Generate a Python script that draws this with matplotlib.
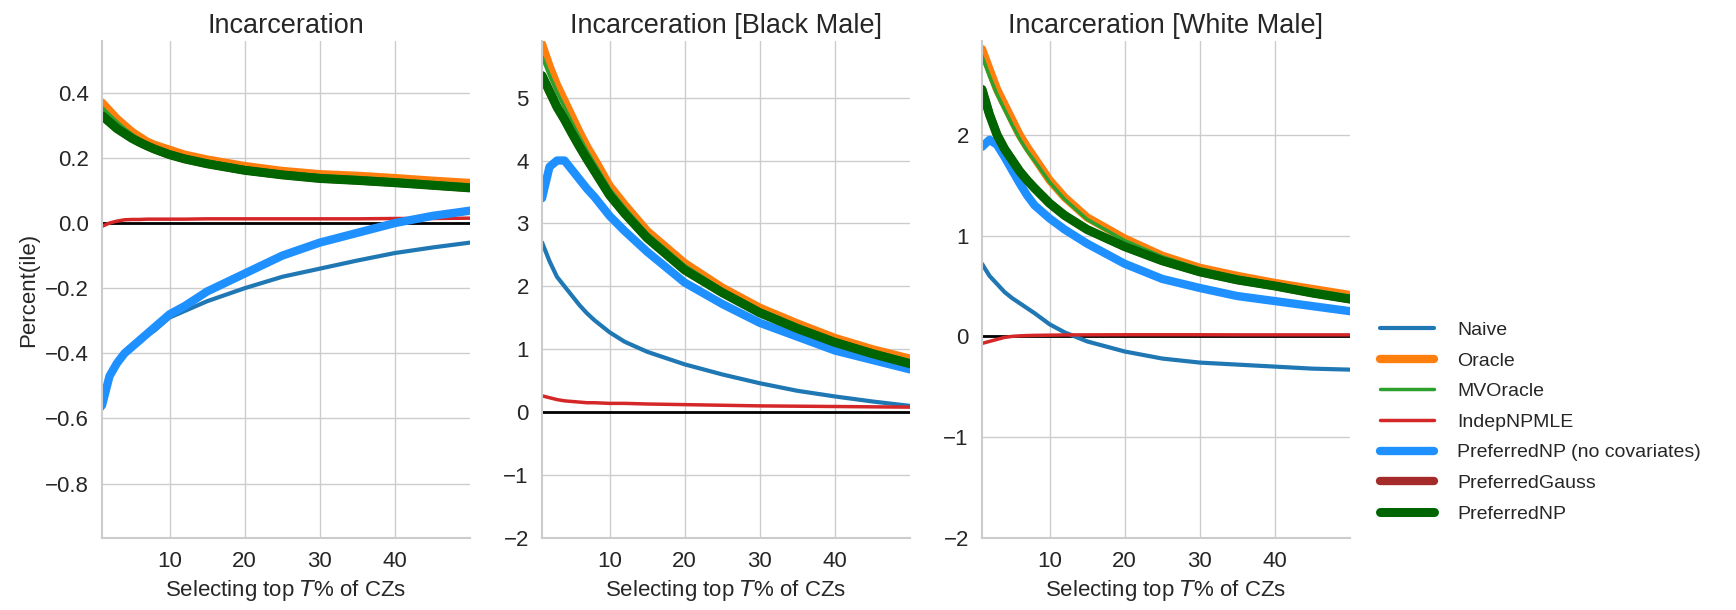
import matplotlib
matplotlib.use("Agg")
import matplotlib.pyplot as plt
import seaborn as sns

sns.set_theme(style="whitegrid")
plt.rcParams["font.family"] = ["Liberation Sans", "DejaVu Sans"]

T = [1, 2, 3, 4, 5, 6, 7, 8, 10, 12, 15, 20, 25, 30, 35, 40, 45, 50]

titles = ["Incarceration", "Incarceration [Black Male]", "Incarceration [White Male]"]

# panel 1: Incarceration
naive_all = [-0.57, -0.48, -0.43, -0.40, -0.38, -0.36, -0.345, -0.33, -0.29, -0.27, -0.24, -0.20, -0.165, -0.14, -0.115, -0.092, -0.075, -0.06]
oracle_all = [0.37, 0.345, 0.32, 0.30, 0.28, 0.265, 0.25, 0.24, 0.225, 0.21, 0.195, 0.175, 0.16, 0.15, 0.145, 0.138, 0.13, 0.123]
mvoracle_all = [0.355, 0.332, 0.31, 0.29, 0.272, 0.257, 0.243, 0.233, 0.218, 0.204, 0.19, 0.17, 0.155, 0.146, 0.14, 0.133, 0.125, 0.117]
indep_all = [-0.01, 0.0, 0.006, 0.01, 0.011, 0.011, 0.012, 0.012, 0.012, 0.012, 0.013, 0.013, 0.013, 0.013, 0.013, 0.014, 0.014, 0.015]
prefnc_all = [-0.56, -0.47, -0.43, -0.40, -0.38, -0.36, -0.34, -0.32, -0.28, -0.255, -0.21, -0.155, -0.10, -0.06, -0.03, 0.0, 0.022, 0.038]
gauss_all = [0.33, 0.31, 0.29, 0.275, 0.26, 0.248, 0.237, 0.227, 0.21, 0.197, 0.182, 0.162, 0.148, 0.137, 0.131, 0.124, 0.116, 0.108]
prefnp_all = [0.33, 0.31, 0.29, 0.275, 0.26, 0.248, 0.237, 0.227, 0.21, 0.197, 0.182, 0.162, 0.148, 0.137, 0.131, 0.124, 0.116, 0.108]

# panel 2: Black Male
naive_bm = [2.7, 2.4, 2.15, 2.0, 1.85, 1.7, 1.57, 1.46, 1.27, 1.12, 0.96, 0.76, 0.6, 0.46, 0.34, 0.25, 0.17, 0.1]
oracle_bm = [5.85, 5.5, 5.2, 4.95, 4.7, 4.45, 4.22, 4.02, 3.6, 3.3, 2.88, 2.37, 1.98, 1.66, 1.41, 1.18, 1.0, 0.85]
mvoracle_bm = [5.65, 5.35, 5.08, 4.84, 4.6, 4.37, 4.15, 3.95, 3.55, 3.25, 2.84, 2.33, 1.95, 1.63, 1.38, 1.15, 0.97, 0.82]
indep_bm = [0.26, 0.23, 0.2, 0.18, 0.17, 0.16, 0.15, 0.15, 0.14, 0.14, 0.13, 0.12, 0.11, 0.1, 0.095, 0.09, 0.085, 0.08]
prefnc_bm = [3.4, 3.9, 4.0, 4.0, 3.85, 3.7, 3.55, 3.42, 3.12, 2.88, 2.55, 2.06, 1.72, 1.42, 1.2, 0.98, 0.83, 0.68]
gauss_bm = [5.35, 5.1, 4.85, 4.65, 4.43, 4.22, 4.02, 3.83, 3.45, 3.16, 2.77, 2.26, 1.9, 1.58, 1.33, 1.11, 0.93, 0.77]
prefnp_bm = [5.35, 5.1, 4.85, 4.65, 4.43, 4.22, 4.02, 3.83, 3.45, 3.16, 2.77, 2.26, 1.9, 1.58, 1.33, 1.11, 0.93, 0.77]

# panel 3: White Male
naive_wm = [0.72, 0.6, 0.52, 0.44, 0.38, 0.33, 0.28, 0.23, 0.12, 0.04, -0.05, -0.15, -0.22, -0.26, -0.28, -0.3, -0.32, -0.33]
oracle_wm = [2.85, 2.65, 2.45, 2.3, 2.15, 2.0, 1.88, 1.77, 1.55, 1.38, 1.18, 0.97, 0.8, 0.68, 0.6, 0.53, 0.47, 0.41]
mvoracle_wm = [2.78, 2.58, 2.4, 2.25, 2.1, 1.96, 1.84, 1.74, 1.53, 1.36, 1.16, 0.95, 0.79, 0.67, 0.59, 0.52, 0.46, 0.4]
indep_wm = [-0.07, -0.05, -0.03, -0.01, 0.0, 0.005, 0.008, 0.01, 0.012, 0.014, 0.015, 0.016, 0.016, 0.016, 0.015, 0.015, 0.015, 0.015]
prefnc_wm = [1.88, 1.95, 1.9, 1.78, 1.65, 1.52, 1.4, 1.3, 1.17, 1.06, 0.92, 0.72, 0.57, 0.48, 0.4, 0.35, 0.3, 0.25]
gauss_wm = [2.45, 2.2, 2.0, 1.86, 1.75, 1.64, 1.55, 1.47, 1.32, 1.2, 1.06, 0.89, 0.75, 0.64, 0.56, 0.5, 0.43, 0.37]
prefnp_wm = [2.45, 2.2, 2.0, 1.86, 1.75, 1.64, 1.55, 1.47, 1.32, 1.2, 1.06, 0.89, 0.75, 0.64, 0.56, 0.5, 0.43, 0.37]

panels = [
    (naive_all, oracle_all, mvoracle_all, indep_all, prefnc_all, gauss_all, prefnp_all),
    (naive_bm, oracle_bm, mvoracle_bm, indep_bm, prefnc_bm, gauss_bm, prefnp_bm),
    (naive_wm, oracle_wm, mvoracle_wm, indep_wm, prefnc_wm, gauss_wm, prefnp_wm),
]
ylims = [(-0.967, 0.559), (-2, 5.9), (-2, 2.93)]

names = ["Naive", "Oracle", "MVOracle", "IndepNPMLE", "PreferredNP (no covariates)",
         "PreferredGauss", "PreferredNP"]
colors = ["tab:blue", "tab:orange", "tab:green", "tab:red", "dodgerblue", "brown", "darkgreen"]
widths = [3, 6, 2.5, 2.5, 6, 6, 6.5]

fig = plt.figure(figsize=(17.36, 6.1), dpi=100)
lefts = [102, 542, 982]
handles = []
for i, series in enumerate(panels):
    ax = fig.add_axes([lefts[i] / 1736, 1 - 538 / 610, 368 / 1736, 497 / 610])
    ax.axhline(0, color="black", lw=2, zorder=1)
    hs = []
    for vals, name, c, w in zip(series, names, colors, widths):
        h, = ax.plot(T, vals, color=c, lw=w, label=name, solid_capstyle="round")
        hs.append(h)
    if i == 0:
        handles = hs
        ax.set_ylabel("Percent(ile)", fontsize=16)
    ax.set_title(titles[i], fontsize=19.5)
    ax.set_xlabel("Selecting top $T$% of CZs", fontsize=16)
    ax.set_xlim(1, 50)
    ax.set_ylim(*ylims[i])
    ax.set_xticks([10, 20, 30, 40])
    ax.tick_params(labelsize=16)
    sns.despine(ax=ax)
    for s in ["left", "bottom"]:
        ax.spines[s].set_color("#cccccc")
        ax.spines[s].set_linewidth(1.5)

fig.legend(handles, names, loc="center left", bbox_to_anchor=(1362 / 1736, 1 - 422 / 610),
           frameon=False, fontsize=14, handlelength=2.8, handletextpad=1.2,
           labelspacing=0.67)

fig.savefig("out.png", dpi=100)
